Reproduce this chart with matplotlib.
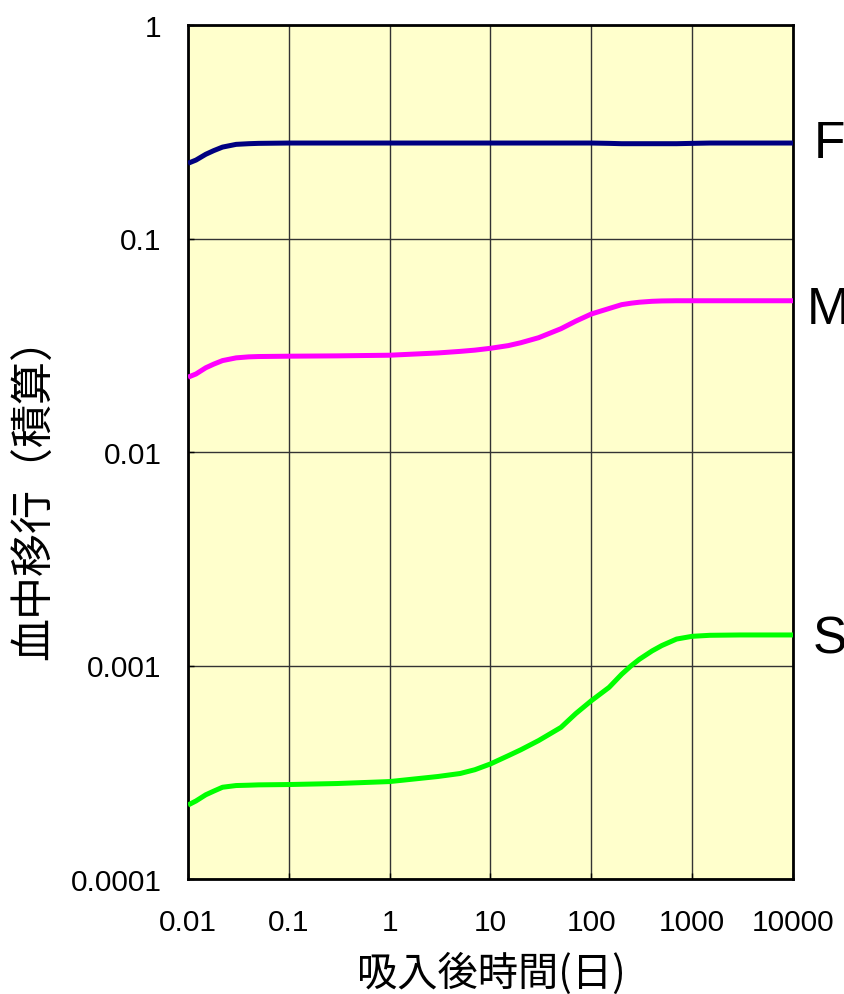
import matplotlib
matplotlib.use("Agg")
import matplotlib.pyplot as plt
from matplotlib.ticker import FixedLocator, FixedFormatter, NullLocator

# days after intake, shared by all three absorption types
days = [0.01, 0.012, 0.015, 0.018, 0.022, 0.03, 0.04, 0.05, 0.1, 0.3, 1, 3, 5, 7,
        10, 15, 20, 30, 50, 70, 100, 150, 200, 250, 300, 400, 500, 700, 1000,
        1500, 3000, 10000]

# cumulative transfer to blood
type_f = [0.225, 0.233, 0.248, 0.258, 0.268, 0.276, 0.278, 0.279, 0.280, 0.280,
          0.280, 0.280, 0.280, 0.280, 0.280, 0.280, 0.280, 0.280, 0.280, 0.280,
          0.280, 0.279, 0.278, 0.278, 0.278, 0.278, 0.278, 0.278, 0.279, 0.280,
          0.280, 0.280]
type_m = [0.0224, 0.0232, 0.0248, 0.0258, 0.0268, 0.0276, 0.0279, 0.0280, 0.0281,
          0.0282, 0.0284, 0.0291, 0.0296, 0.0300, 0.0306, 0.0315, 0.0325, 0.0343,
          0.0378, 0.0410, 0.0443, 0.0470, 0.0490, 0.0498, 0.0503, 0.0508, 0.0510,
          0.0511, 0.0511, 0.0511, 0.0511, 0.0511]
type_s = [2.22e-4, 2.32e-4, 2.48e-4, 2.58e-4, 2.69e-4, 2.74e-4, 2.75e-4, 2.76e-4,
          2.77e-4, 2.80e-4, 2.86e-4, 3.02e-4, 3.12e-4, 3.25e-4, 3.46e-4, 3.78e-4,
          4.03e-4, 4.45e-4, 5.13e-4, 5.95e-4, 6.84e-4, 7.90e-4, 9.10e-4, 1.00e-3,
          1.07e-3, 1.17e-3, 1.24e-3, 1.33e-3, 1.37e-3, 1.385e-3, 1.39e-3, 1.39e-3]

series_names = ["F", "M", "S"]
series_colors = ["#000080", "#FF00FF", "#00FF00"]
# where each type letter sits right of the plot: axes-x, pixel shift down
name_x = [1.035, 1.023, 1.033]
name_dy = [0, -9, -4]

x_ticks = [0.01, 0.1, 1, 10, 100, 1000, 10000]
x_tick_labels = ["0.01", "0.1", "1", "10", "100", "1000", "10000"]
y_ticks = [0.0001, 0.001, 0.01, 0.1, 1]
y_tick_labels = ["0.0001", "0.001", "0.01", "0.1", "1"]

jp_font = ["Noto Sans CJK JP", "DejaVu Sans"]

fig = plt.figure(figsize=(8.44, 9.95), dpi=100)
ax = fig.add_axes([188 / 844, 115 / 995, 605 / 844, 854 / 995])
ax.set_facecolor("#FFFFCC")

for values, name, color, nx, dy in zip([type_f, type_m, type_s], series_names,
                                       series_colors, name_x, name_dy):
    ax.plot(days, values, color=color, linewidth=3.6, solid_capstyle="butt", zorder=3)
    ax.annotate(name, xy=(nx, values[-1]), xycoords=ax.get_yaxis_transform(),
                xytext=(0, dy), textcoords="offset pixels",
                ha="left", va="center", fontsize=37, family="Liberation Sans",
                annotation_clip=False)

ax.set_xscale("log")
ax.set_yscale("log")
ax.set_xlim(0.01, 10000)
ax.set_ylim(0.0001, 1)

ax.xaxis.set_major_locator(FixedLocator(x_ticks))
ax.xaxis.set_major_formatter(FixedFormatter(x_tick_labels))
ax.yaxis.set_major_locator(FixedLocator(y_ticks))
ax.yaxis.set_major_formatter(FixedFormatter(y_tick_labels))
ax.xaxis.set_minor_locator(NullLocator())
ax.yaxis.set_minor_locator(NullLocator())

ax.tick_params(axis="both", direction="in", length=4, width=1, labelsize=21.5)
ax.tick_params(axis="x", pad=21)
ax.tick_params(axis="y", pad=19)
for label in ax.get_xticklabels() + ax.get_yticklabels():
    label.set_family("Liberation Sans")

ax.grid(True, color="#333333", linewidth=1)
for spine in ax.spines.values():
    spine.set_linewidth(2)
    spine.set_color("black")

ax.set_xlabel("吸入後時間(日)", fontsize=29, family=jp_font)
ax.xaxis.label.set_verticalalignment("center")
ax.xaxis.set_label_coords(0.502, -0.110)
ax.set_ylabel("血中移行（積算）", fontsize=31, family=jp_font)
ax.yaxis.label.set_verticalalignment("center")
ax.yaxis.set_label_coords(-0.253, 0.459)

fig.savefig("out.png", dpi=100)
